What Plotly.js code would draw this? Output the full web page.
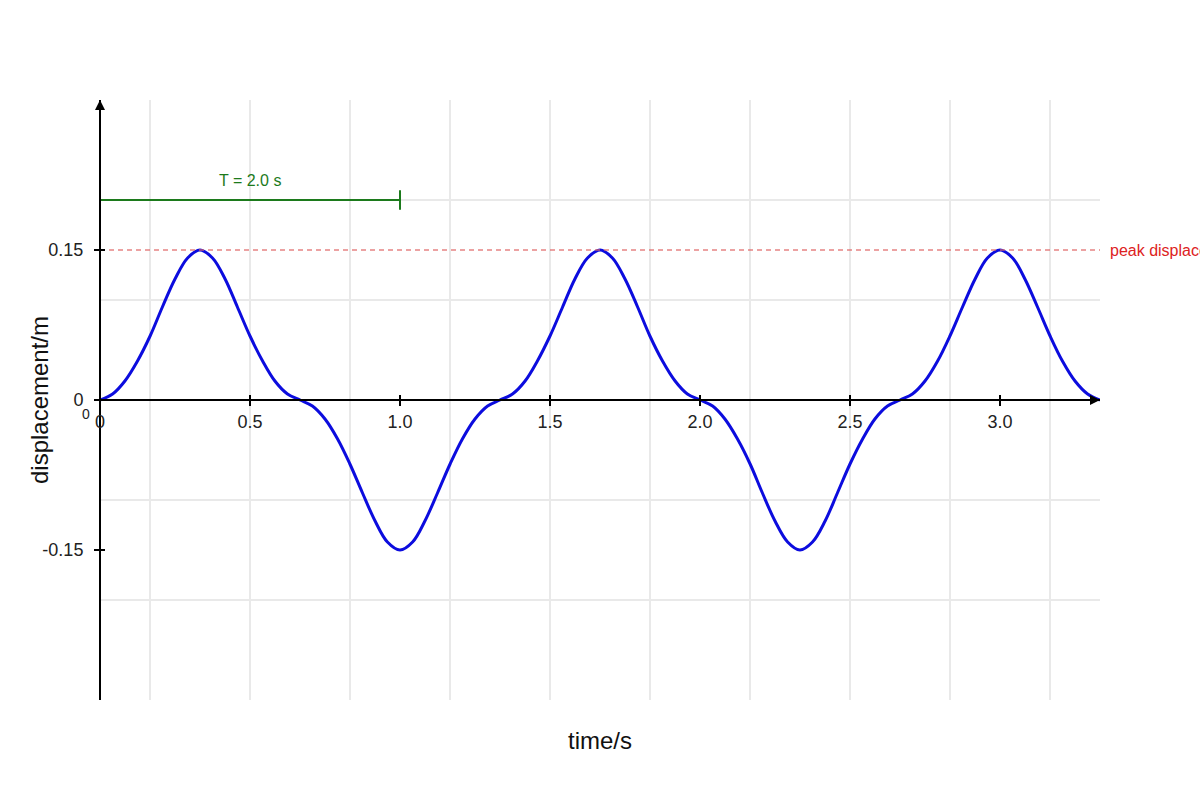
<!DOCTYPE html>
<html>
<head>
<meta charset="utf-8">
<script src="https://cdn.plot.ly/plotly-3.0.1.min.js"></script>
<style>html,body{margin:0;padding:0;background:#fff;}#chart{width:1200px;height:800px;}</style>
</head>
<body>
<div id="chart"></div>
<script>
// time samples (s)
var time = [0, 0.042, 0.083, 0.125, 0.167, 0.208, 0.25, 0.292, 0.333, 0.375, 0.417, 0.458,
  0.5, 0.542, 0.583, 0.625, 0.667, 0.708, 0.75, 0.792, 0.833, 0.875, 0.917, 0.958,
  1.0, 1.042, 1.083, 1.125, 1.167, 1.208, 1.25, 1.292, 1.333, 1.375, 1.417, 1.458,
  1.5, 1.542, 1.583, 1.625, 1.667, 1.708, 1.75, 1.792, 1.833, 1.875, 1.917, 1.958,
  2.0, 2.042, 2.083, 2.125, 2.167, 2.208, 2.25, 2.292, 2.333, 2.375, 2.417, 2.458,
  2.5, 2.542, 2.583, 2.625, 2.667, 2.708, 2.75, 2.792, 2.833, 2.875, 2.917, 2.958,
  3.0, 3.042, 3.083, 3.125, 3.167, 3.208, 3.25, 3.292, 3.333];
// displacement (m)
var displacement = [0, 0.006, 0.019, 0.039, 0.064, 0.093, 0.121, 0.142, 0.15, 0.142, 0.121, 0.093,
  0.064, 0.039, 0.019, 0.006, 0, -0.006, -0.019, -0.039, -0.064, -0.093, -0.121, -0.142,
  -0.15, -0.142, -0.121, -0.093, -0.064, -0.039, -0.019, -0.006, 0, 0.006, 0.019, 0.039,
  0.064, 0.093, 0.121, 0.142, 0.15, 0.142, 0.121, 0.093, 0.064, 0.039, 0.019, 0.006,
  0, -0.006, -0.019, -0.039, -0.064, -0.093, -0.121, -0.142, -0.15, -0.142, -0.121, -0.093,
  -0.064, -0.039, -0.019, -0.006, 0, 0.006, 0.019, 0.039, 0.064, 0.093, 0.121, 0.142,
  0.15, 0.142, 0.121, 0.093, 0.064, 0.039, 0.019, 0.006, 0];

var xRange = [0, 3.3333];
var yRange = [-0.3, 0.3];
var xTickVals = [0, 0.5, 1.0, 1.5, 2.0, 2.5, 3.0];
var xTickText = ['0', '0.5', '1.0', '1.5', '2.0', '2.5', '3.0'];
var yTickVals = [-0.15, 0, 0.15];
var yTickText = ['-0.15', '0', '0.15'];
var xGridVals = [0.1667, 0.5, 0.8333, 1.1667, 1.5, 1.8333, 2.1667, 2.5, 2.8333, 3.1667];
var yGridVals = [-0.2, -0.1, 0.1, 0.2];

var peakX = [0, 3.3333];
var peakY = [0.15, 0.15];
var peakLabel = 'peak displacement';

var periodX = [0, 1.0];
var periodY = [0.2, 0.2];
var periodLabel = 'T = 2.0 s';

var FONT = 'Liberation Sans, Arial, sans-serif';
var GREEN = '#1c7a1c';

var traces = [
  {x: peakX, y: peakY, xaxis: 'x2', yaxis: 'y2', mode: 'lines', hoverinfo: 'skip',
   line: {color: 'rgba(222,100,100,0.8)', width: 1.5, dash: '5px,4px'}},
  {x: time, y: displacement, xaxis: 'x', yaxis: 'y', mode: 'lines',
   line: {color: 'rgb(12,12,222)', width: 3, shape: 'spline', smoothing: 1}},
  {x: periodX, y: periodY, xaxis: 'x2', yaxis: 'y2', mode: 'lines+markers', hoverinfo: 'skip',
   line: {color: GREEN, width: 2},
   marker: {symbol: 'line-ns-open', size: 14, line: {color: GREEN, width: 2}}},
  {x: [0], y: [0], xaxis: 'x3', yaxis: 'y3', mode: 'markers', hoverinfo: 'skip',
   marker: {opacity: 0}}
];

var layout = {
  width: 1200, height: 800,
  margin: {l: 100, r: 100, t: 100, b: 100},
  paper_bgcolor: '#fff', plot_bgcolor: '#fff',
  showlegend: false,
  font: {family: FONT, color: '#222', size: 16},
  xaxis: {range: xRange, tickmode: 'array', tickvals: xGridVals, showticklabels: false,
    ticks: '', showgrid: true, gridcolor: '#e9e9e9', gridwidth: 1.5, zeroline: false, showline: false,
    title: {text: 'time/s', font: {size: 24, color: '#111'}, standoff: 32}},
  yaxis: {range: yRange, tickmode: 'array', tickvals: yGridVals, showticklabels: false,
    ticks: '', showgrid: true, gridcolor: '#e9e9e9', gridwidth: 1.5, zeroline: false, showline: false,
    title: {text: 'displacement/m', font: {size: 24, color: '#111'}, standoff: 43}},
  xaxis2: {overlaying: 'x', anchor: 'free', position: 0.5, range: xRange,
    tickmode: 'array', tickvals: xTickVals, ticktext: xTickText,
    ticks: 'outside', ticklen: 5, tickwidth: 2, tickcolor: '#000',
    showline: true, linecolor: '#000', linewidth: 2, showgrid: false, zeroline: false,
    tickfont: {size: 18, color: '#222'}},
  yaxis2: {overlaying: 'y', anchor: 'free', position: 0, range: yRange,
    tickmode: 'array', tickvals: yTickVals, ticktext: yTickText,
    ticks: 'outside', ticklen: 5, tickwidth: 2, tickcolor: '#000', ticklabelstandoff: 7,
    showline: true, linecolor: '#000', linewidth: 2, showgrid: false, zeroline: false,
    tickfont: {size: 18, color: '#222'}},
  xaxis3: {overlaying: 'x', anchor: 'free', position: 0.5, range: xRange,
    tickmode: 'array', tickvals: xTickVals, showticklabels: false,
    ticks: 'inside', ticklen: 5, tickwidth: 2, tickcolor: '#000',
    showline: false, showgrid: false, zeroline: false},
  yaxis3: {overlaying: 'y', anchor: 'free', position: 0, range: yRange,
    tickmode: 'array', tickvals: yTickVals, showticklabels: false,
    ticks: 'inside', ticklen: 4, tickwidth: 2, tickcolor: '#000',
    showline: false, showgrid: false, zeroline: false},
  annotations: [
    {x: xRange[1], y: 0, xref: 'x', yref: 'y', text: '', showarrow: true,
     ax: -14, ay: 0, arrowhead: 2, arrowsize: 1, arrowwidth: 2, arrowcolor: '#000'},
    {x: 0, y: yRange[1], xref: 'x', yref: 'y', text: '', showarrow: true,
     ax: 0, ay: 14, arrowhead: 2, arrowsize: 1, arrowwidth: 2, arrowcolor: '#000'},
    {x: 0, y: 0, xref: 'x', yref: 'y', text: '0', showarrow: false,
     xshift: -14, yshift: -14, font: {size: 14, color: '#222'}},
    {x: (periodX[0] + periodX[1]) / 2, y: periodY[0], xref: 'x', yref: 'y', text: periodLabel,
     showarrow: false, yshift: 20, font: {size: 16, color: GREEN}},
    {x: 1.008, y: peakY[0], xref: 'paper', yref: 'y', text: peakLabel, xanchor: 'left',
     showarrow: false, font: {size: 16, color: '#dd2222'}}
  ]
};

Plotly.newPlot('chart', traces, layout, {displayModeBar: false, staticPlot: true});
</script>
</body>
</html>
